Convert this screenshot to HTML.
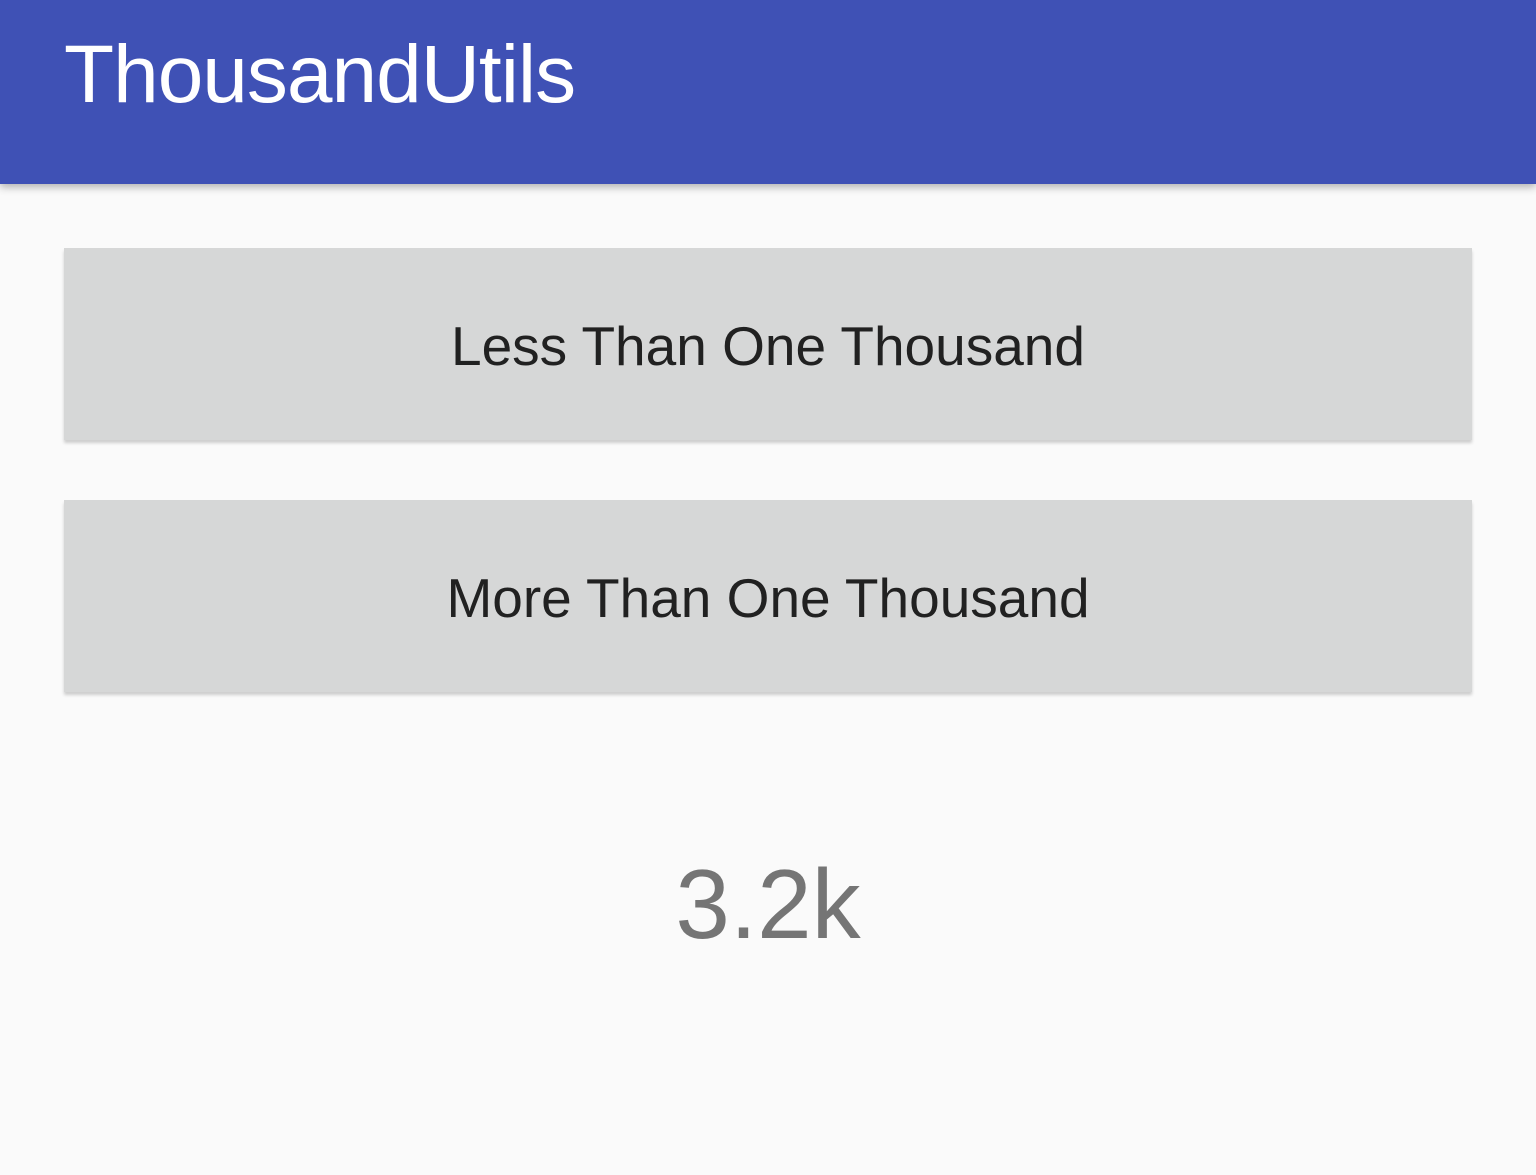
<!DOCTYPE html>
<html><head><meta charset="utf-8"><style>
html,body{margin:0;padding:0;width:1536px;height:1175px;background:#fafafa;overflow:hidden;font-family:"Liberation Sans",sans-serif}
.bar{position:absolute;left:0;top:0;width:1536px;height:184px;background:#3f51b5;box-shadow:0 3px 8px rgba(0,0,0,.3)}
.title{position:absolute;left:64px;top:30px;font-size:82px;color:#fff;line-height:90px;letter-spacing:-1px}
.btn{position:absolute;left:64px;width:1408px;height:192px;background:#d6d7d7;box-shadow:0 3px 3px rgba(0,0,0,.18);display:flex;align-items:center;justify-content:center;font-size:55px;color:#212121;border:none;padding-top:4px;box-sizing:border-box}
.val{position:absolute;left:0;width:1536px;top:849px;text-align:center;font-size:98px;color:#757575;line-height:110px}
</style></head><body>
<div class="bar"><div class="title">ThousandUtils</div></div>
<div class="btn" style="top:248px">Less Than One Thousand</div>
<div class="btn" style="top:500px">More Than One Thousand</div>
<div class="val">3.2k</div>
</body></html>
